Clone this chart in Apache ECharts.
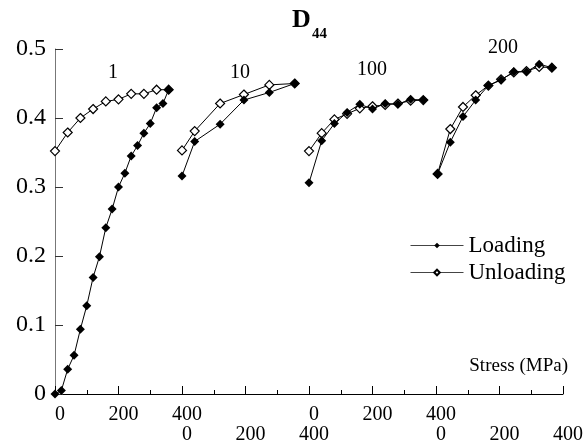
<!DOCTYPE html>
<html>
<head>
<meta charset="utf-8">
<script src="https://cdn.jsdelivr.net/npm/echarts@6/dist/echarts.min.js"></script>
<style>
html, body { margin: 0; padding: 0; background: #fff; }
#container { width: 588px; height: 446px; }
</style>
</head>
<body>
<div id="container"></div>
<script>
// cycle groups, each drawn on its own 0-400 MPa stretch of the x axis
var groupNames = ['1', '10', '100', '200'];
var groupSpan = 400;

// group 1
var loadStress1 = [0, 20, 40, 60, 80, 100, 120, 140, 160, 180, 200, 220, 240, 260, 280, 300, 320, 340, 358];
var load1 = [0, 0.005, 0.036, 0.056, 0.094, 0.128, 0.169, 0.199, 0.241, 0.268, 0.300, 0.320, 0.345, 0.360, 0.378, 0.392, 0.415, 0.421, 0.441];
var unloadStress1 = [0, 40, 80, 120, 160, 200, 240, 280, 320, 358];
var unload1 = [0.352, 0.379, 0.400, 0.413, 0.424, 0.427, 0.435, 0.435, 0.441, 0.441];

// group 10
var loadStress10 = [0, 40, 120, 195, 275, 355];
var load10 = [0.316, 0.366, 0.391, 0.426, 0.437, 0.450];
var unloadStress10 = [0, 40, 120, 195, 275, 355];
var unload10 = [0.353, 0.381, 0.421, 0.434, 0.448, 0.450];

// group 100
var loadStress100 = [0, 40, 80, 120, 160, 200, 240, 280, 320, 360];
var load100 = [0.306, 0.367, 0.392, 0.408, 0.420, 0.413, 0.421, 0.420, 0.427, 0.426];
var unloadStress100 = [0, 40, 80, 120, 160, 200, 240, 280, 320, 360];
var unload100 = [0.352, 0.378, 0.398, 0.406, 0.414, 0.417, 0.419, 0.421, 0.425, 0.426];

// group 200
var loadStress200 = [5, 45, 85, 125, 165, 205, 245, 285, 325, 365];
var load200 = [0.319, 0.365, 0.402, 0.426, 0.447, 0.455, 0.467, 0.467, 0.478, 0.473];
var unloadStress200 = [5, 45, 85, 125, 165, 205, 245, 285, 325, 365];
var unload200 = [0.319, 0.384, 0.416, 0.433, 0.447, 0.456, 0.466, 0.468, 0.474, 0.473];

// staggered tick labels (two rows) for x values 0,200,...,1600
var tickRow1 = ['0', '200', '400', '', '0', '200', '400', '', ''];
var tickRow2 = ['', '', '0', '200', '400', '', '0', '200', '400'];

var loadStress = [loadStress1, loadStress10, loadStress100, loadStress200];
var loadVals = [load1, load10, load100, load200];
var unloadStress = [unloadStress1, unloadStress10, unloadStress100, unloadStress200];
var unloadVals = [unload1, unload10, unload100, unload200];

var FONT = '"Liberation Serif", "DejaVu Serif", serif';

function pairs(stress, vals, k) {
    return stress.map(function (s, i) { return [k * groupSpan + s, vals[i]]; });
}

window.onload = function()
{
var myChart = echarts.init(document.getElementById('container'));

var series = [];
groupNames.forEach(function (g, k) {
    series.push({
        name: 'Unloading',
        type: 'line',
        data: pairs(unloadStress[k], unloadVals[k], k),
        symbol: 'diamond',
        symbolSize: 9,
        showAllSymbol: true,
        lineStyle: { color: '#000', width: 1 },
        itemStyle: { color: '#fff', borderColor: '#000', borderWidth: 1.2 },
        z: 2
    });
});
groupNames.forEach(function (g, k) {
    series.push({
        name: 'Loading',
        type: 'line',
        data: pairs(loadStress[k], loadVals[k], k),
        symbol: 'diamond',
        symbolSize: 9,
        showAllSymbol: true,
        lineStyle: { color: '#000', width: 1 },
        itemStyle: { color: '#000', borderColor: '#000', borderWidth: 0 },
        z: 3
    });
});

var groupLabelPos = [[113, 73], [240, 73], [372, 70], [503, 48]];
var graphics = groupNames.map(function (g, k) {
    return {
        type: 'text',
        x: groupLabelPos[k][0],
        y: groupLabelPos[k][1],
        style: { text: g, font: '20px ' + FONT, fill: '#000', align: 'center', verticalAlign: 'middle' }
    };
});
graphics.push({
    type: 'text', x: 292, y: 7,
    style: { text: 'D', font: 'bold 26px ' + FONT, fill: '#000' }
});
graphics.push({
    type: 'text', x: 312, y: 27,
    style: { text: '44', font: 'bold 15px ' + FONT, fill: '#000' }
});

var option = {
    animation: false,
    backgroundColor: '#fff',
    grid: { left: 55, right: 25, top: 49, bottom: 52 },
    legend: {
        orient: 'vertical',
        left: 405,
        top: 229,
        itemWidth: 53,
        itemHeight: 7,
        itemGap: 4,
        data: ['Loading', 'Unloading'],
        lineStyle: { width: 1, color: '#444' },
        textStyle: { fontFamily: FONT, fontSize: 23, color: '#000' }
    },
    xAxis: {
        type: 'value',
        min: 0,
        max: 1600,
        interval: 200,
        name: 'Stress (MPa)',
        nameLocation: 'end',
        nameGap: 5,
        nameTextStyle: {
            fontFamily: FONT, fontSize: 19, color: '#000',
            align: 'right', verticalAlign: 'bottom', padding: [0, 0, 18, 0]
        },
        axisLine: { lineStyle: { color: '#000', width: 1 } },
        axisTick: { inside: true, length: 8, lineStyle: { color: '#000' } },
        minorTick: { show: true, splitNumber: 2, length: 4, lineStyle: { color: '#000' } },
        splitLine: { show: false },
        axisLabel: {
            margin: 11,
            lineHeight: 20,
            padding: [0, 0, 0, 10],
            fontFamily: FONT,
            fontSize: 20,
            color: '#000',
            showMinLabel: true,
            showMaxLabel: true,
            formatter: function (v) {
                var i = Math.round(v / 200);
                return (tickRow1[i] || ' ') + '\n' + (tickRow2[i] || ' ');
            }
        }
    },
    yAxis: {
        type: 'value',
        min: 0,
        max: 0.5,
        interval: 0.1,
        axisLine: { show: true, lineStyle: { color: '#777', width: 1 } },
        axisTick: { show: true, inside: true, length: 8, lineStyle: { color: '#333' } },
        splitLine: { show: false },
        axisLabel: {
            margin: 9,
            fontFamily: FONT,
            fontSize: 24,
            color: '#000',
            formatter: function (v) { return v === 0 ? '0' : v.toFixed(1); }
        }
    },
    graphic: graphics,
    series: series
};

myChart.setOption(option);
};
</script>
</body>
</html>
